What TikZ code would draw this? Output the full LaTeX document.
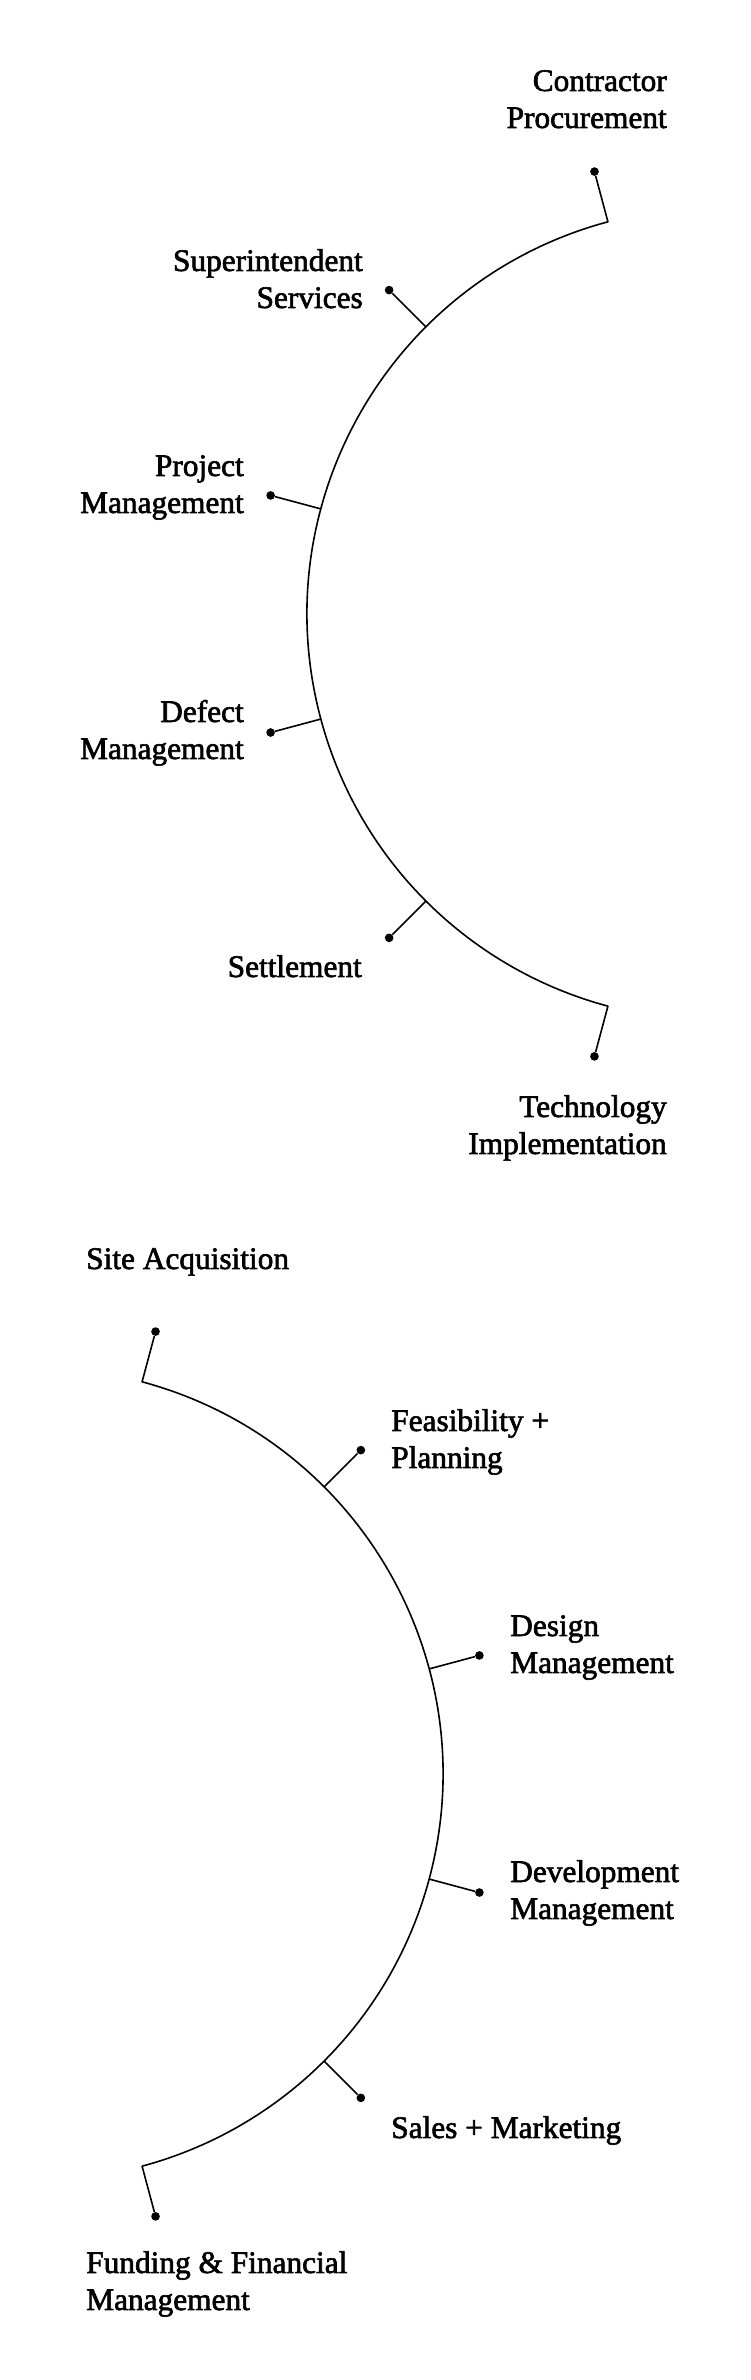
\documentclass[tikz,border=0pt]{standalone}
\usepackage{fontspec}
\setmainfont{Liberation Serif}
\newfontfamily\lblfont{Liberation Serif}[FakeBold=2]
\usetikzlibrary{calc}
\begin{document}
\begin{tikzpicture}[x=0.75pt,y=0.75pt,
  arcline/.style={line width=1.2pt,line cap=round},
  spoke/.style={line width=1.2pt},
  dotnode/.style={circle,fill=black,draw=none,inner sep=0pt,minimum size=6.5pt},
  lbltxt/.style={inner sep=0pt,font=\lblfont\fontsize{23.5pt}{27.75pt}\selectfont},
  lblR/.style={lbltxt,anchor=base east,align=right},
  lblL/.style={lbltxt,anchor=base west,align=left}]
\useasboundingbox (0,0) rectangle (750,2380);
% centres
\coordinate (c1) at (713,1766);
\coordinate (c2) at (37,606);
% ---------- upper arc ----------
\foreach \n/\a in {1/105,2/135,3/165,4/195,5/225,6/255}{
  \coordinate (ua\n) at ($(c1)+(\a:304.5pt)$);
  \node[dotnode] (ud\n) at ($(c1)+(\a:343.5pt)$) {};
}
\draw[arcline] (ua1) arc[start angle=105,end angle=255,radius=304.5pt];
\foreach \n in {1,...,6}{ \draw[spoke] (ua\n) -- (ud\n); }
\node[lblR] (l1) at (667,2252) {Contractor\\Procurement};
\node[lblR] (l2) at (363,2072) {Superintendent\\Services};
\node[lblR] (l3) at (244,1867) {Project\\Management};
\node[lblR] (l4) at (244,1621) {Defect\\Management};
\node[lblR] (l5) at (362,1403) {Settlement};
\node[lblR] (l6) at (667,1226) {Technology\\Implementation};
% ---------- lower arc ----------
\foreach \n/\a in {1/75,2/45,3/15,4/-15,5/-45,6/-75}{
  \coordinate (la\n) at ($(c2)+(\a:304.5pt)$);
  \node[dotnode] (ld\n) at ($(c2)+(\a:343.5pt)$) {};
}
\draw[arcline] (la1) arc[start angle=75,end angle=-75,radius=304.5pt];
\foreach \n in {1,...,6}{ \draw[spoke] (la\n) -- (ld\n); }
\node[lblL] (m1) at (86,1111) {Site Acquisition};
\node[lblL] (m2) at (391,912) {Feasibility +\\Planning};
\node[lblL] (m3) at (510,707) {Design\\Management};
\node[lblL] (m4) at (510,461) {Development\\Management};
\node[lblL] (m5) at (391,242) {Sales + Marketing};
\node[lblL] (m6) at (86,70) {Funding \& Financial\\Management};
\end{tikzpicture}
\end{document}
